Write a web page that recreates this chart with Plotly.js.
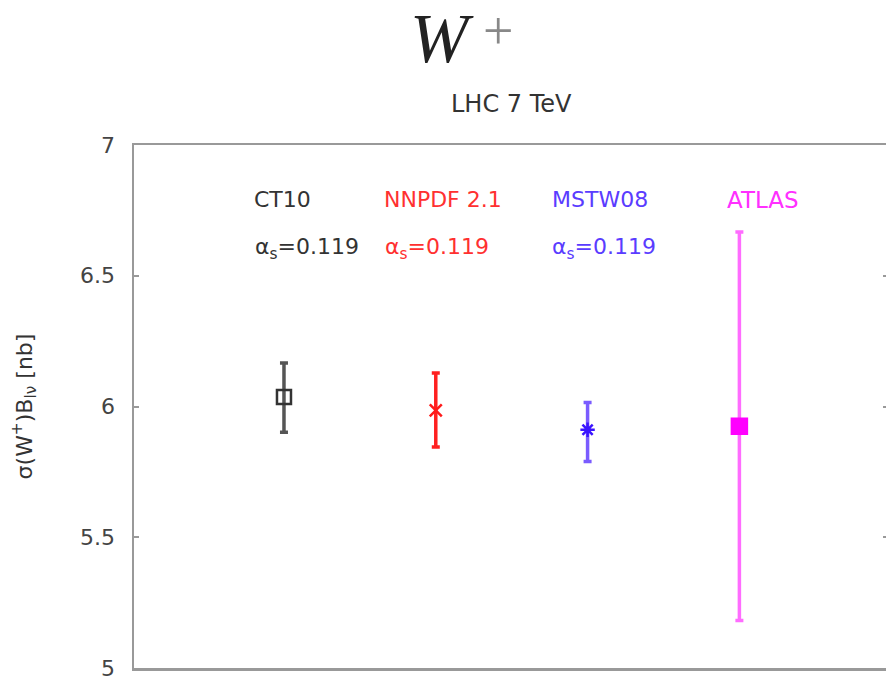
<!DOCTYPE html>
<html>
<head>
<meta charset="utf-8">
<script src="https://cdn.plot.ly/plotly-3.0.1.min.js"></script>
<style>
html,body{margin:0;padding:0;overflow:hidden;background:#fff;}
#chart{width:888px;height:681px;}
</style>
</head>
<body>
<div id="chart"></div>
<script>
// ---- data ----
const groups = ['CT10', 'NNPDF 2.1', 'MSTW08', 'ATLAS'];
const xpos = [1, 2, 3, 4];
const central = [6.036, 5.985, 5.911, 5.924];
const upper = [6.166, 6.128, 6.015, 6.667];
const lower = [5.902, 5.845, 5.790, 5.182];
const alphaLabels = ['α<sub>s</sub>=0.119', 'α<sub>s</sub>=0.119', 'α<sub>s</sub>=0.119', ''];
const yTicks = [5, 5.5, 6, 6.5, 7];
const yTickText = ['5', '5.5', '6', '6.5', '7'];

// ---- styles ----
const markerColors = ['#333333', '#ff1a1a', '#3a14ff', '#ff00ff'];
const barColors = ['#555555', '#ff2020', '#7a5cff', '#ff6cff'];
const textColors = ['#333333', '#ff3030', '#5a3cff', '#ff30ff'];
const symbols = ['square-open', 'x-thin-open', 'asterisk-open', 'square'];
const sizes = [14, 12, 12, 15];
const labelX = [0.789, 1.646, 2.752, 3.905];
const alphaX = [0.796, 1.652, 2.752, 0];

const traces = groups.map((g, i) => ({
  type: 'scatter',
  mode: 'markers',
  x: [xpos[i]],
  y: [central[i]],
  name: g,
  marker: {symbol: symbols[i], size: sizes[i], color: markerColors[i],
           line: {color: markerColors[i], width: 2.5}},
  error_y: {type: 'data', symmetric: false,
            array: [upper[i] - central[i]], arrayminus: [central[i] - lower[i]],
            color: barColors[i], thickness: 3.5, width: 4},
  showlegend: false,
  hoverinfo: 'y'
}));

const F = 'DejaVu Sans, sans-serif';
const annotations = [];
groups.forEach((g, i) => {
  annotations.push({x: labelX[i], y: 6.79, xref: 'x', yref: 'y', text: g,
    showarrow: false, xanchor: 'left', yanchor: 'middle',
    font: {family: F, size: i === 3 ? 23 : 22, color: textColors[i]}});
  if (alphaLabels[i]) annotations.push({x: alphaX[i], y: 6.605, xref: 'x', yref: 'y', text: alphaLabels[i],
    showarrow: false, xanchor: 'left', yanchor: 'middle',
    font: {family: F, size: 22, color: textColors[i]}});
});
// title W+
annotations.push({xref: 'paper', yref: 'paper', x: 0.4085, y: 1, yshift: 107, text: '<i>W</i>',
  showarrow: false, xanchor: 'center', yanchor: 'middle',
  font: {family: 'Liberation Serif, serif', size: 70, color: '#222'}});
annotations.push({xref: 'paper', yref: 'paper', x: 0.483, y: 1, yshift: 114, text: '+',
  showarrow: false, xanchor: 'center', yanchor: 'middle',
  font: {family: 'Liberation Serif, serif', size: 54, color: '#888'}});
annotations.push({xref: 'paper', yref: 'paper', x: 0.5, y: 1, yshift: 25, text: 'LHC 7 TeV',
  showarrow: false, xanchor: 'center', yanchor: 'bottom',
  font: {family: F, size: 24, color: '#333'}});

const layout = {
  width: 888, height: 681,
  margin: {l: 134, r: 0, t: 145, b: 13},
  paper_bgcolor: '#fff', plot_bgcolor: '#fff',
  xaxis: {range: [0.012, 4.979], showgrid: false, zeroline: false, showticklabels: false,
          ticks: '', showline: true, linecolor: '#999', linewidth: 2.5, mirror: true, fixedrange: true},
  yaxis: {range: [5, 7], tickvals: yTicks, ticktext: yTickText, showgrid: false, zeroline: false,
          ticks: 'inside', ticklen: 5, tickcolor: '#999', tickwidth: 2,
          showline: true, linecolor: '#999', linewidth: 2.5, mirror: 'ticks',
          ticklabelstandoff: 12,
          tickfont: {family: F, size: 22, color: '#444'},
          title: {text: 'σ(W<sup>+</sup>)B<sub>lν</sub> [nb]', standoff: 42,
                  font: {family: F, size: 22, color: '#333'}}},
  annotations: annotations
};

Plotly.newPlot('chart', traces, layout, {displayModeBar: false, staticPlot: true});
</script>
</body>
</html>
